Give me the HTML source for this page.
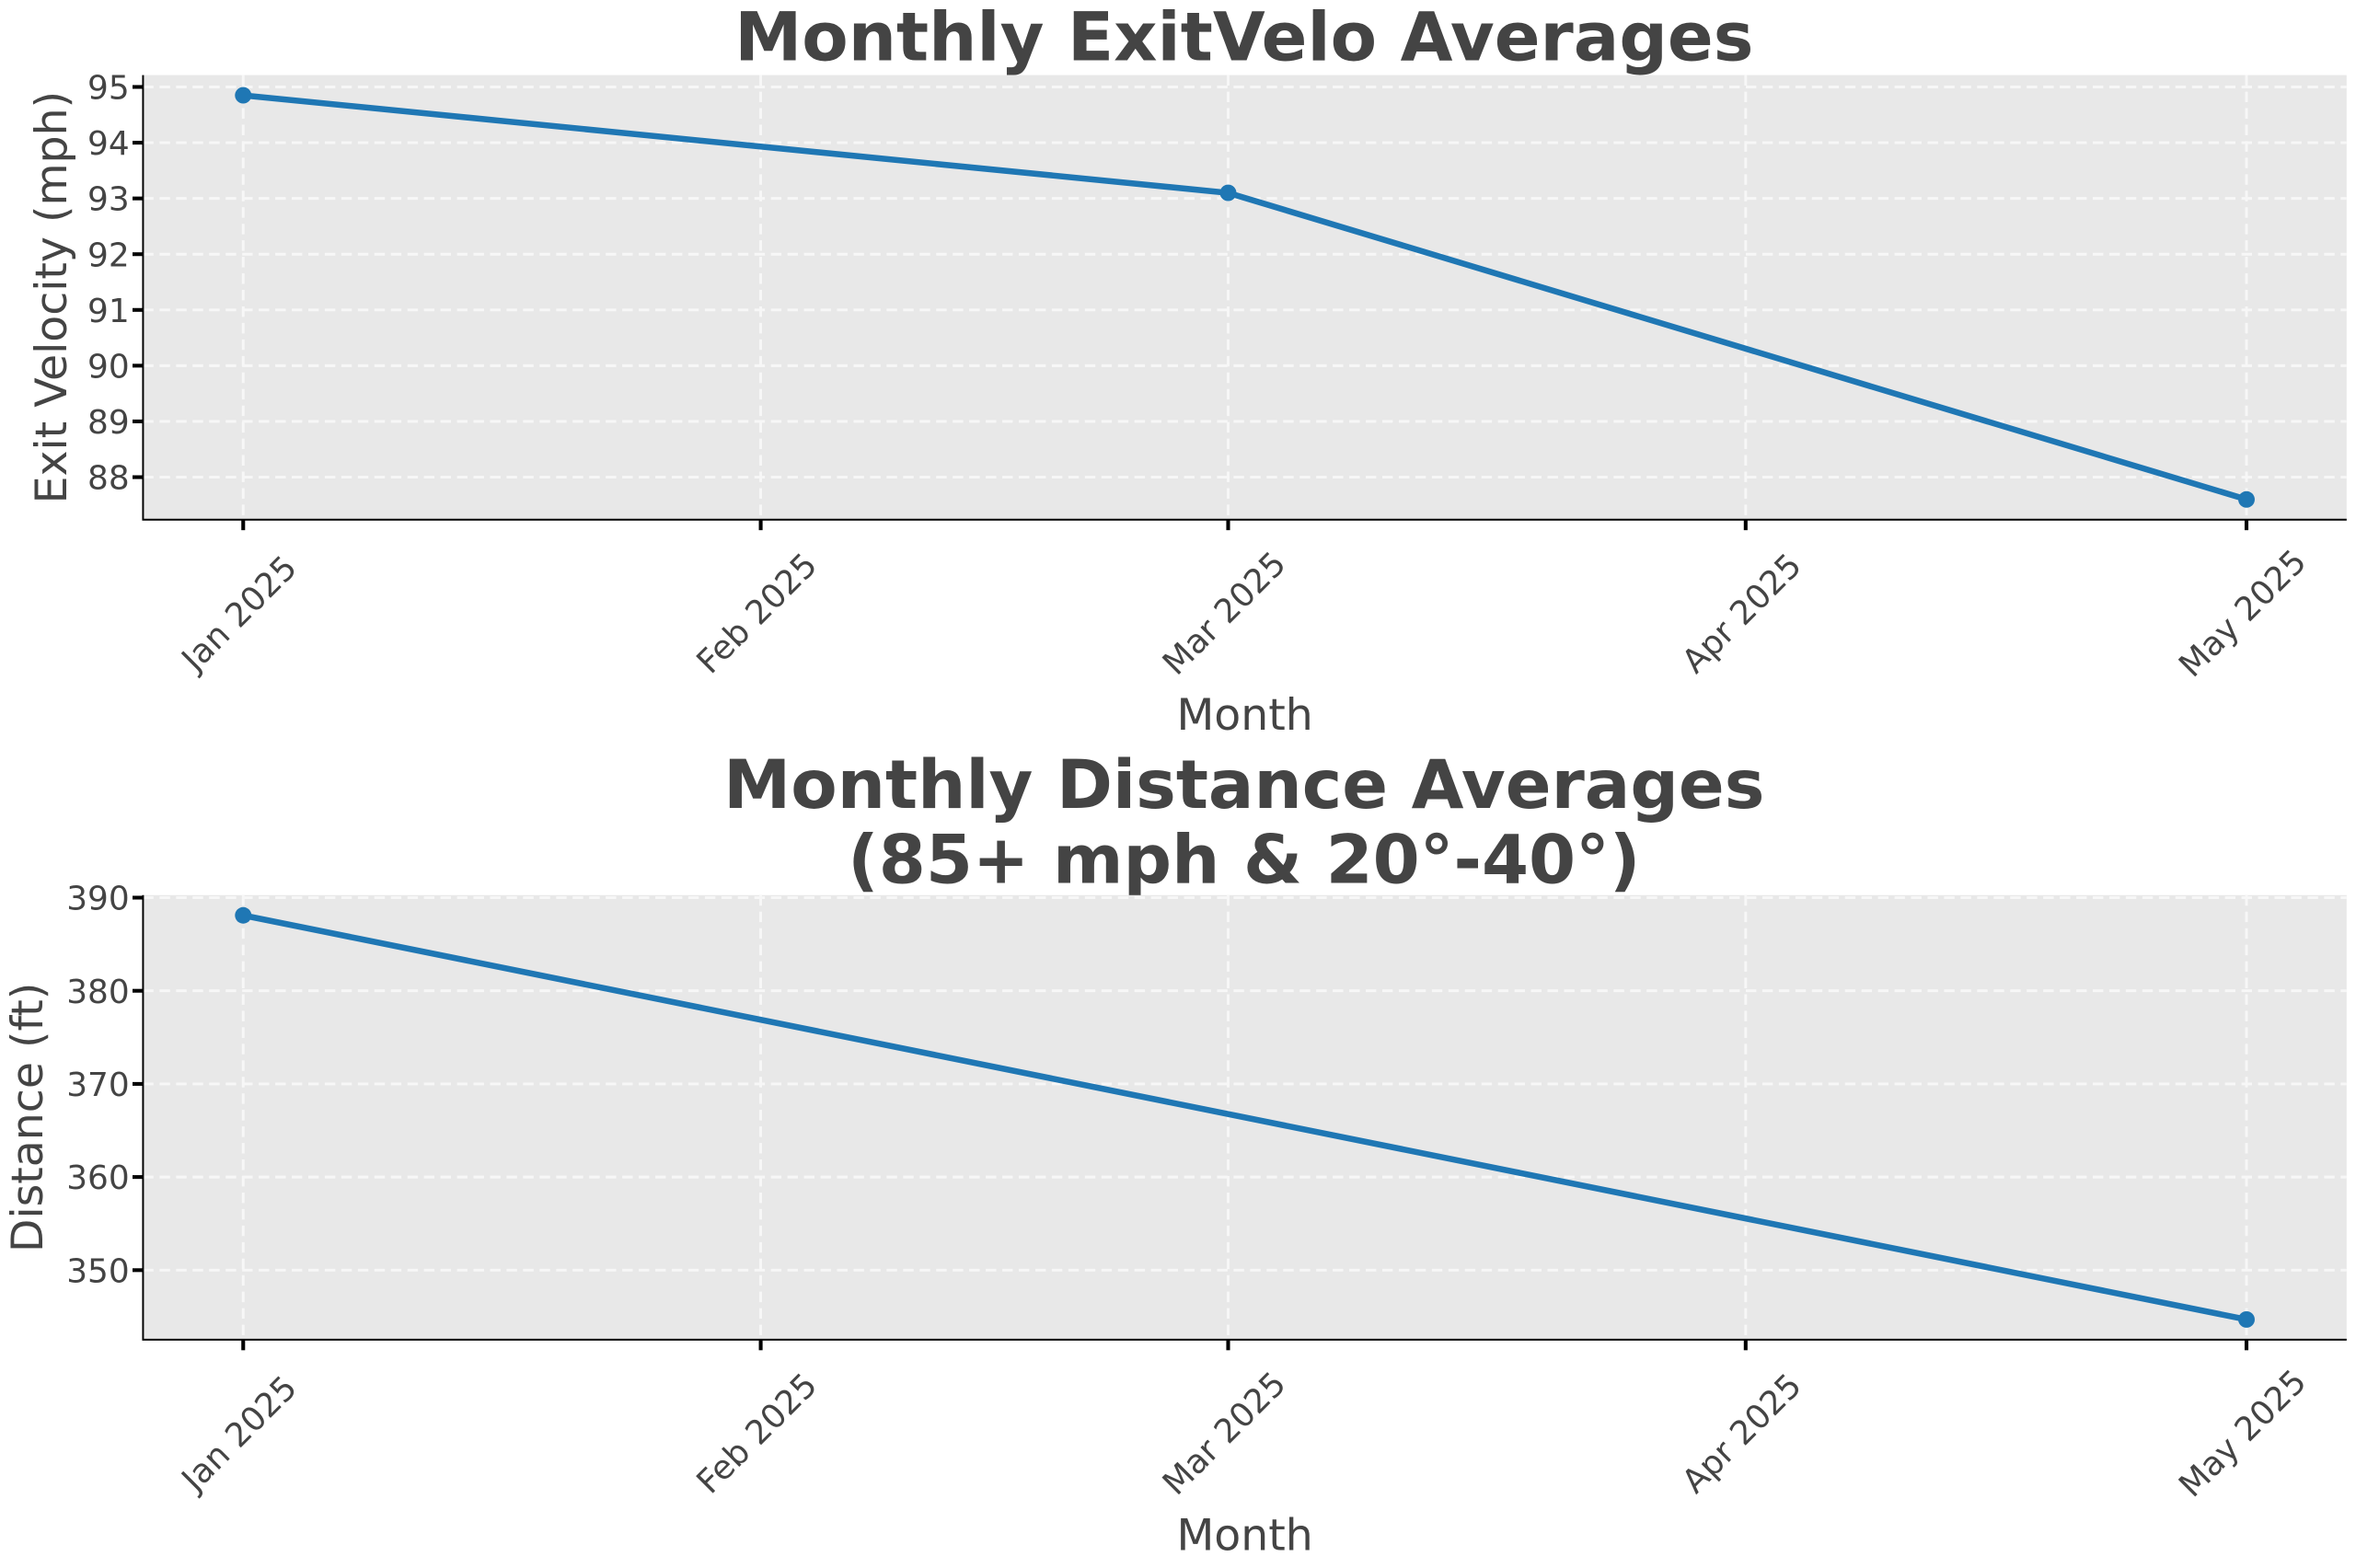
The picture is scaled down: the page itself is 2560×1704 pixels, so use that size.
<!DOCTYPE html>
<html><head><meta charset="utf-8"><style>
html,body{margin:0;padding:0;background:#fff}
svg{display:block;font-family:"DejaVu Sans","Liberation Sans",sans-serif}
</style></head><body>
<svg id="chart" width="2560" height="1704" viewBox="0 0 1568 1044" xmlns="http://www.w3.org/2000/svg">
<text x="828" y="40" text-anchor="middle" font-size="45" font-weight="bold" fill="#444">Monthly ExitVelo Averages</text>
<text x="828" y="538" text-anchor="middle" font-size="45" font-weight="bold" fill="#444">Monthly Distance Averages</text>
<text x="828" y="588" text-anchor="middle" font-size="45" font-weight="bold" fill="#444">(85+ mph &amp; 20°-40°)</text>
<g id="p1"></g>
<g id="p2"></g>
</svg>
<script>
const tickMonths = ["Jan 2025","Feb 2025","Mar 2025","Apr 2025","May 2025"];
const tickDays = [0,31,59,90,120];
const veloDays = [0,59,120];
const veloValues = [94.85,93.1,87.6];
const veloTicks = [88,89,90,91,92,93,94,95];
const distDays = [0,120];
const distValues = [388.1,344.7];
const distTicks = [350,360,370,380,390];

const NS="http://www.w3.org/2000/svg";
function mk(parent,tag,attrs,text){const e=document.createElementNS(NS,tag);for(const k in attrs)e.setAttribute(k,attrs[k]);if(text!==undefined)e.textContent=text;parent.appendChild(e);return e;}

function panel(g,top,bottom,days,vals,yt,ylabel,ylabelX,nm){
  const L=95,R=1562,dMin=-6,dMax=126;
  const vmin=Math.min(...vals),vmax=Math.max(...vals),m=(vmax-vmin)*0.05;
  const y0=vmin-m,y1=vmax+m;
  const x=d=>L+(d-dMin)/(dMax-dMin)*(R-L);
  const y=v=>bottom-(v-y0)/(y1-y0)*(bottom-top);
  const bg=mk(g,'rect',{x:L,y:top,width:R-L,height:bottom-top,fill:'#e8e8e8'});
  
  
  yt.forEach(t=>{
    const gl=mk(g,'line',{x1:L,x2:R,y1:y(t),y2:y(t),stroke:'#f7f7f7','stroke-width':1.8,'stroke-dasharray':'7,4'});
    
    
    const tk=mk(g,'line',{x1:L-7,x2:L,y1:y(t),y2:y(t),stroke:'#000','stroke-width':2.5});
    
    
    const tl=mk(g,'text',{x:L-9,y:y(t)+8,'text-anchor':'end','font-size':22,fill:'#444'},String(t));
    
    
  });
  tickDays.forEach((d,i)=>{
    const gl=mk(g,'line',{x1:x(d),x2:x(d),y1:top,y2:bottom,stroke:'#f7f7f7','stroke-width':1.8,'stroke-dasharray':'7,4'});
    
    
    const tk=mk(g,'line',{x1:x(d),x2:x(d),y1:bottom,y2:bottom+7,stroke:'#000','stroke-width':2.5});
    
    
    const tx=x(d)-3,ty=bottom+62;
    const tl=mk(g,'text',{x:tx,y:ty+8,'text-anchor':'middle','font-size':22,fill:'#444',transform:`rotate(-45 ${tx} ${ty})`},tickMonths[i]);
    
    
  });
  const sp=mk(g,'path',{d:`M${L},${top} V${bottom} H${R}`,fill:'none',stroke:'#000','stroke-width':1.2});
  
  
  const pts=days.map((d,i)=>x(d)+','+y(vals[i])).join(' ');
  const ln=mk(g,'polyline',{points:pts,fill:'none',stroke:'#1f77b4','stroke-width':4,'stroke-linejoin':'round'});
  
  
  days.forEach((d,i)=>{
    const c=mk(g,'circle',{cx:x(d),cy:y(vals[i]),r:5.5,fill:'#1f77b4'});
    
    
  });
  const cy=(top+bottom)/2;
  const yl=mk(g,'text',{x:ylabelX,y:cy,'text-anchor':'middle','font-size':29,fill:'#444',transform:`rotate(-90 ${ylabelX} ${cy})`},ylabel);
  
  
  const xl=mk(g,'text',{x:(L+R)/2,y:bottom+140,'text-anchor':'middle','font-size':29,fill:'#444'},'Month');
  
  
}
panel(document.getElementById('p1'),50,346,veloDays,veloValues,veloTicks,'Exit Velocity (mph)',44,'velo');
panel(document.getElementById('p2'),596,892,distDays,distValues,distTicks,'Distance (ft)',28,'distance');
</script>
</body></html>
